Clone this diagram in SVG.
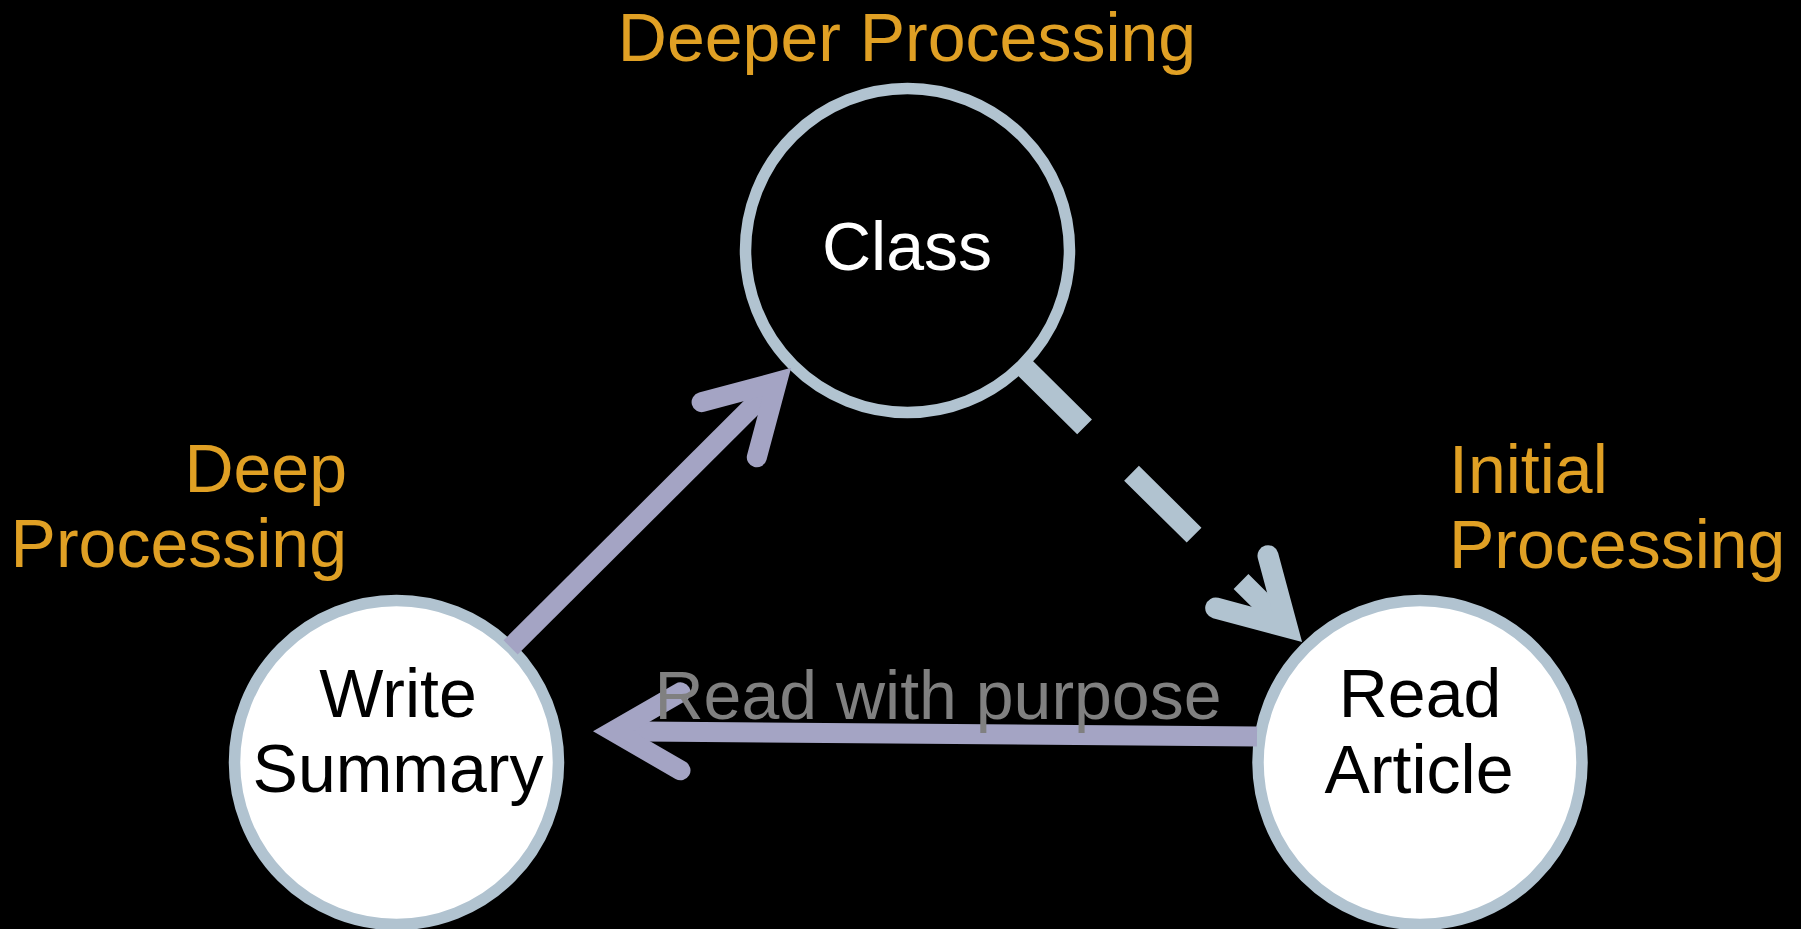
<svg xmlns="http://www.w3.org/2000/svg" width="1801" height="929" viewBox="0 0 1801 929">
  <style>
    .bg { fill: #000000; }
    .node-circle { stroke: #B1C3D0; stroke-width: 11.5; }
    .dark { fill: #000000; }
    .light { fill: #FFFFFF; }
    .label { font-family: "Liberation Sans", Arial, Helvetica, sans-serif; font-size: 68px; }
    .note { fill: #E0A024; }
    .edge-purple { stroke: #A4A4C4; fill: none; stroke-width: 20; }
    .edge-dash { stroke: #B1C3D0; fill: none; stroke-width: 21; }
    .head { stroke-linecap: round; stroke-linejoin: miter; stroke-miterlimit: 4; }
  </style>
  <rect class="bg" x="0" y="0" width="1801" height="929"/>

  <g id="node-class">
    <circle class="node-circle dark" cx="907.5" cy="250.5" r="162"/>
    <text class="label" x="907" y="270" text-anchor="middle" fill="#FFFFFF">Class</text>
  </g>

  <g id="node-write-summary">
    <circle class="node-circle light" cx="396.5" cy="762.5" r="162"/>
    <text class="label" x="398" y="717" text-anchor="middle" fill="#000000">Write</text>
    <text class="label" x="398" y="792" text-anchor="middle" fill="#000000">Summary</text>
  </g>

  <g id="node-read-article">
    <circle class="node-circle light" cx="1420" cy="762.5" r="162"/>
    <text class="label" x="1420" y="717" text-anchor="middle" fill="#000000">Read</text>
    <text class="label" x="1419" y="793" text-anchor="middle" fill="#000000">Article</text>
  </g>

  <g id="connectors">
    <g id="edge-write-to-class">
      <path class="edge-purple" d="M 510.6 647.4 L 777 382"/>
      <path class="edge-purple head" d="M 701.6 402.2 L 777 382 L 756.8 457.3"/>
    </g>
    <g id="edge-class-to-read">
      <path class="edge-dash" stroke-dasharray="88 66" d="M 1022 365 L 1287.2 627.2"/>
      <path class="edge-dash head" d="M 1268 555.7 L 1287.2 627.2 L 1215.7 608"/>
    </g>
    <g id="edge-read-to-write">
      <path class="edge-purple" d="M 1257 736.5 L 613 731.3"/>
      <path class="edge-purple head" d="M 680.5 692.3 L 613 731.3 L 680.5 770.3"/>
      <text class="label" x="938" y="719" text-anchor="middle" fill="#808080">Read with purpose</text>
    </g>
  </g>

  <g id="note-deeper">
    <text class="label note" x="907" y="61" text-anchor="middle">Deeper Processing</text>
  </g>
  <g id="note-deep">
    <text class="label note" x="347" y="492" text-anchor="end">Deep</text>
    <text class="label note" x="347" y="567" text-anchor="end">Processing</text>
  </g>
  <g id="note-initial">
    <text class="label note" x="1449" y="493" text-anchor="start">Initial</text>
    <text class="label note" x="1449" y="568" text-anchor="start">Processing</text>
  </g>
</svg>
